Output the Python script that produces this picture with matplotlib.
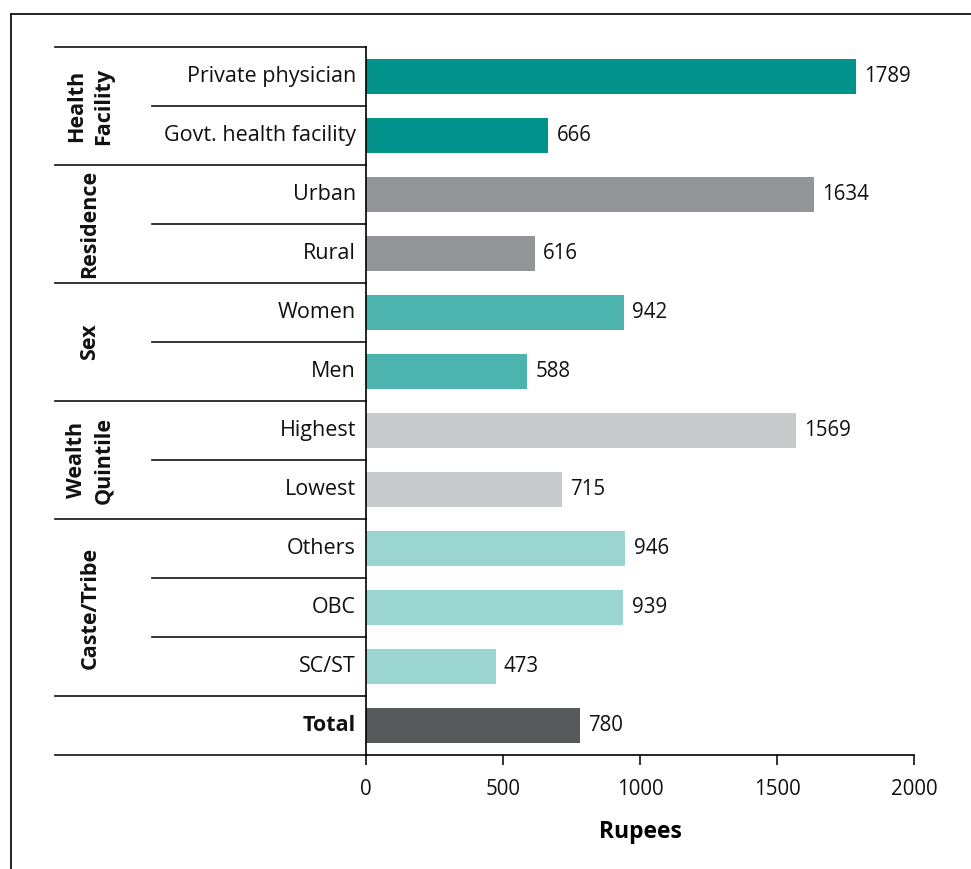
import matplotlib
matplotlib.use("Agg")
import matplotlib.pyplot as plt
from matplotlib.lines import Line2D

plt.rcParams['font.family'] = ['Open Sans', 'DejaVu Sans']

# Average out-of-pocket expenditure by background characteristic
categories = ["Private physician", "Govt. health facility", "Urban", "Rural",
              "Women", "Men", "Highest", "Lowest", "Others", "OBC", "SC/ST", "Total"]
values = [1789, 666, 1634, 616, 942, 588, 1569, 715, 946, 939, 473, 780]
colors = ["#00928B", "#00928B", "#939598", "#939598", "#4DB3AF", "#4DB3AF",
          "#C8C9CB", "#C8C9CB", "#9BD5D2", "#9BD5D2", "#9BD5D2", "#58595B"]
groups = [("Health\nFacility", 0, 1), ("Residence", 2, 3), ("Sex", 4, 5),
          ("Wealth\nQuintile", 6, 7), ("Caste/Tribe", 8, 10)]
xticks = [0, 500, 1000, 1500, 2000]

W, H = 971, 869
fig = plt.figure(figsize=(W / 100, H / 100), dpi=100)
ax = fig.add_axes([366 / W, (H - 755) / H, (914 - 366) / W, 708 / H])

y = list(range(len(categories)))
ax.barh(y, values, height=0.6, color=colors, zorder=2)
for yi, v in zip(y, values):
    ax.annotate(f"{v}", (v, yi), xytext=(6, 0), textcoords="offset points",
                va="center", ha="left", fontsize=14.8, color="#111111")

ax.set_xlim(0, 2000)
ax.set_ylim(len(categories) - 0.5, -0.5)
ax.set_xticks(xticks)
ax.set_xticklabels([str(t) for t in xticks], fontsize=14.8)
ax.tick_params(axis="x", length=7, width=1.2, pad=10, direction="out", colors="#111111")
ax.set_yticks([])
for s in ["top", "right"]:
    ax.spines[s].set_visible(False)
ax.spines["left"].set_linewidth(1.2)
ax.spines["bottom"].set_linewidth(1.2)
ax.set_xlabel("Rupees", fontsize=16.5, fontweight="bold", labelpad=15)

tr = ax.get_yaxis_transform()
x_full = (55 - 366) / (914 - 366)
x_inner = (152 - 366) / (914 - 366)
x_lab = (356 - 366) / (914 - 366)
x_grp = (90 - 366) / (914 - 366)

# Category labels
for yi, c in zip(y, categories):
    ax.text(x_lab, yi, c, transform=tr, ha="right", va="center", fontsize=15.5,
            fontweight="bold" if c == "Total" else "normal", color="#111111")

# Separators between rows and groups
starts = {g[1] for g in groups} | {len(categories) - 1}
for b in range(len(categories) + 1):
    yb = b - 0.5
    xs = x_full if (b in starts or b == len(categories)) else x_inner
    ax.add_line(Line2D([xs, 0], [yb, yb], transform=tr, color="#111111",
                       lw=1.2, clip_on=False))

# Group labels
for name, a, b in groups:
    ax.text(x_grp, (a + b) / 2, name, transform=tr, rotation=90, ha="center",
            va="center", fontsize=15.5, fontweight="bold", linespacing=1.35,
            color="#111111")

# Outer frame
fig.add_artist(Line2D([11 / W, 11 / W], [0, 1 - 14 / H], color="#111111", lw=1.3))
fig.add_artist(Line2D([11 / W, 1], [1 - 14 / H, 1 - 14 / H], color="#111111", lw=1.3))

fig.savefig("out.png", dpi=100)
